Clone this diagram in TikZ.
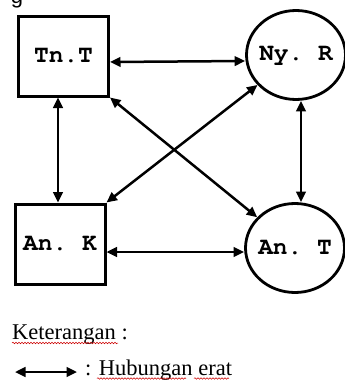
\documentclass[tikz,border=0pt]{standalone}
\usepackage{fontspec}
\setmainfont{Liberation Serif}
\newfontfamily\sansf{Liberation Sans}
\newcommand\courb{\fontencoding{OT1}\fontfamily{pcr}\fontseries{b}\fontshape{n}\selectfont\frenchspacing}
\usetikzlibrary{arrows.meta,shapes.geometric,decorations.pathmorphing}
\begin{document}
\begin{tikzpicture}[x=1pt,y=-1pt,
  boxnode/.style={draw,line width=3pt,rectangle,minimum width=90pt,minimum height=80pt,inner sep=0pt,font=\courb\fontsize{24.5}{27}\selectfont},
  ellnode/.style={draw,line width=2.8pt,ellipse,minimum width=99pt,minimum height=89pt,inner sep=-7pt,font=\courb\fontsize{24.5}{27}\selectfont},
  arr/.style={line width=2.5pt,{Triangle[length=10.5pt,width=9.5pt]}-{Triangle[length=10.5pt,width=9.5pt]}},
  legtext/.style={inner sep=0pt,anchor=base west,font=\fontsize{22.5}{25}\selectfont},
  squig/.style={draw=red!80!black,line width=0.5pt,decorate,decoration={snake,amplitude=0.8pt,segment length=3pt}}
]
\clip (0,0) rectangle (345,380);
\useasboundingbox (0,0) rectangle (345,380);
\node[inner sep=0pt,anchor=base,font=\sansf\fontsize{22}{24}\selectfont] (gtop) at (17,3) {g};
\node[boxnode] (tnt) at (63.5,56) {Tn.T};
\node[boxnode] (ank) at (60,244) {An. K};
\node[ellnode] (nyr) at (296,55) {Ny. R};
\node[ellnode] (ant) at (295,248) {An. T};
\draw[arr] ([yshift=-6pt]tnt.east) -- ([yshift=-6pt]nyr.west);
\draw[arr] ([yshift=-8pt]ank.east) -- ([yshift=-4pt]ant.west);
\draw[arr] ([xshift=-5.5pt]tnt.south) -- ([xshift=-2pt]ank.north);
\draw[arr] ([xshift=5pt]nyr.south) -- ([xshift=6pt]ant.north);
\draw[arr] (tnt.south east) -- (ant);
\draw[arr] (ank.north east) -- (nyr);
\node[legtext] (ket) at (12,339) {Keterangan :};
\coordinate (k1) at (12,343);
\coordinate (k2) at (118,343);
\draw[squig] (k1) -- (k2);
\coordinate (la) at (15,372);
\coordinate (lb) at (77,372);
\draw[arr] (la) -- (lb);
\node[legtext] (hub) at (85,375) {: Hubungan erat};
\coordinate (h1) at (97,378.5);
\coordinate (h2) at (186,378.5);
\coordinate (h3) at (194,378.5);
\coordinate (h4) at (229,378.5);
\draw[squig] (h1) -- (h2);
\draw[squig] (h3) -- (h4);
\end{tikzpicture}
\end{document}
